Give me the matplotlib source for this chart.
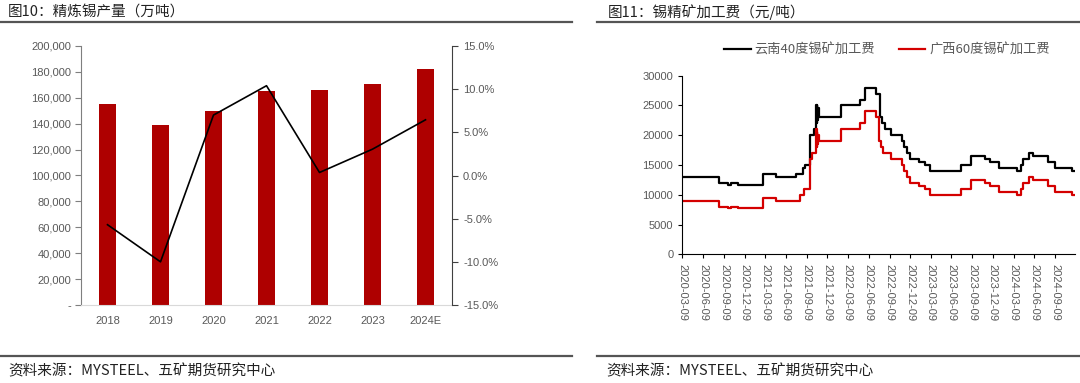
import matplotlib
matplotlib.use("Agg")
import matplotlib.pyplot as plt
from matplotlib.lines import Line2D
from matplotlib.ticker import FuncFormatter, MultipleLocator
import numpy as np
import pandas as pd

CJK = ['Noto Sans CJK SC', 'DejaVu Sans']
NUM = ['Liberation Sans', 'DejaVu Sans']
plt.rcParams['font.family'] = CJK

# ---------- data: chart 10 ----------
years = ['2018', '2019', '2020', '2021', '2022', '2023', '2024E']
output_t = [155000, 139000, 149500, 165300, 166000, 170600, 182000]
yoy_pct = [-5.7, -10.0, 7.0, 10.4, 0.35, 3.05, 6.45]

# ---------- data: chart 11 (step change points) ----------
yn_dates = ['2020-03-09', '2020-08-19', '2020-09-25', '2020-10-10', '2020-11-11',
            '2021-02-26', '2021-04-26', '2021-07-23', '2021-08-25', '2021-09-01',
            '2021-09-23', '2021-10-11', '2021-10-20', '2021-10-22', '2021-10-24',
            '2021-10-26', '2021-10-28', '2021-10-31', '2022-02-09', '2022-05-01',
            '2022-05-26', '2022-07-13', '2022-07-28', '2022-08-05', '2022-08-19',
            '2022-09-15', '2022-11-01', '2022-11-10', '2022-11-23', '2022-12-10',
            '2023-01-18', '2023-02-12', '2023-03-06', '2023-07-19', '2023-09-05',
            '2023-11-03', '2023-11-25', '2024-01-06', '2024-03-25', '2024-04-09',
            '2024-04-20', '2024-05-17', '2024-06-04', '2024-08-09', '2024-09-07',
            '2024-11-20', '2024-12-04']
yn_fee = [13000, 12000, 11700, 12000, 11700,
          13500, 13000, 13500, 14500, 15000,
          20000, 21000, 25000, 22000, 25000,
          22500, 24500, 23000, 25000, 26000,
          28000, 27000, 23000, 22000, 21000,
          20000, 19000, 18000, 17000, 16000,
          15500, 15000, 14000, 15000, 16500,
          16000, 15500, 14500, 14000, 15000,
          16000, 17000, 16500, 15500, 14500,
          14000, 14000]

gx_dates = ['2020-03-09', '2020-08-19', '2020-09-25', '2020-10-10', '2020-11-11',
            '2021-02-26', '2021-04-26', '2021-08-10', '2021-08-28', '2021-09-23',
            '2021-10-01', '2021-10-20', '2021-10-22', '2021-10-24', '2021-10-26',
            '2021-10-28', '2021-10-31', '2022-02-09', '2022-05-01', '2022-05-26',
            '2022-07-13', '2022-07-24', '2022-08-02', '2022-08-12', '2022-09-15',
            '2022-11-01', '2022-11-10', '2022-11-23', '2022-12-10', '2023-01-18',
            '2023-02-12', '2023-03-06', '2023-07-19', '2023-09-05', '2023-11-03',
            '2023-11-25', '2024-01-06', '2024-03-25', '2024-04-09', '2024-04-20',
            '2024-05-17', '2024-06-04', '2024-08-09', '2024-09-07', '2024-11-20',
            '2024-12-04']
gx_fee = [9000, 8000, 7700, 8000, 7700,
          9500, 9000, 10000, 11000, 16000,
          17000, 21000, 18000, 20500, 18500,
          20000, 19000, 21000, 22000, 24000,
          23000, 19000, 18000, 17000, 16000,
          15000, 14000, 13000, 12000, 11500,
          11000, 10000, 11000, 12500, 12000,
          11500, 10500, 10000, 11000, 12000,
          13000, 12500, 11500, 10500, 10000,
          10000]

tick_dates = pd.date_range('2020-03-09', '2024-09-09', freq=pd.DateOffset(months=3))

GRAY = '#595959'
BAR_RED = '#AE0000'
LINE_RED = '#D40000'

fig = plt.figure(figsize=(10.8, 3.83), dpi=100)

# ---------- header / footer ----------
fig.text(8/1080, 1-12/383, '图10：精炼锡产量（万吨）', fontsize=10.5, color='#222222',
         va='center', ha='left', family=CJK)
fig.text(608/1080, 1-12/383, '图11：锡精矿加工费（元/吨）', fontsize=10.5, color='#222222',
         va='center', ha='left', family=CJK)
for x0, x1 in [(0, 572), (597, 1080)]:
    fig.add_artist(Line2D([x0/1080, x1/1080], [1-22/383]*2, color='#555555', lw=1.6))
    fig.add_artist(Line2D([x0/1080, x1/1080], [1-356/383]*2, color='#555555', lw=1.6))
fig.text(8/1080, 1-371/383, '资料来源：MYSTEEL、五矿期货研究中心', fontsize=10.5, color='#222222',
         va='center', ha='left', family=CJK)
fig.text(606/1080, 1-371/383, '资料来源：MYSTEEL、五矿期货研究中心', fontsize=10.5, color='#222222',
         va='center', ha='left', family=CJK)

# ---------- chart 10 ----------
ax1 = fig.add_axes([81/1080, 1-305/383, (452-81)/1080, (305-46)/383])
x = np.arange(len(years))
ax1.bar(x, output_t, width=0.32, color=BAR_RED, zorder=2)
ax1.set_xlim(-0.5, len(years)-0.5)
ax1.set_ylim(0, 200000)
ax1.yaxis.set_major_locator(MultipleLocator(20000))
ax1.yaxis.set_major_formatter(FuncFormatter(lambda v, p: '-' if v == 0 else f'{int(v):,}'))
ax1.set_xticks(x)
ax1.set_xticklabels(years)
for s in ['top', 'right']:
    ax1.spines[s].set_visible(False)
ax1.spines['left'].set_color('#7F7F7F')
ax1.spines['bottom'].set_color('#D9D9D9')
ax1.tick_params(axis='y', direction='out', length=4, color='#7F7F7F', labelsize=8, labelcolor=GRAY, pad=3)
ax1.tick_params(axis='x', length=0, labelsize=8, labelcolor=GRAY, pad=8)
for lab in ax1.get_xticklabels() + ax1.get_yticklabels():
    lab.set_family(NUM)

ax2 = ax1.twinx()
ax2.plot(x, yoy_pct, color='black', lw=1.2, zorder=3)
ax2.set_ylim(-15, 15)
ax2.yaxis.set_major_locator(MultipleLocator(5))
ax2.yaxis.set_major_formatter(FuncFormatter(lambda v, p: f'{v:.1f}%'))
for s in ['top', 'left', 'bottom']:
    ax2.spines[s].set_visible(False)
ax2.spines['right'].set_color('#404040')
ax2.tick_params(axis='y', direction='out', length=4, color='#404040', labelsize=8, labelcolor=GRAY, pad=4)
for lab in ax2.get_yticklabels():
    lab.set_family(NUM)

# ---------- chart 11 ----------
ax3 = fig.add_axes([682.3/1080, 1-254.3/383, (1075-682.3)/1080, (254.3-75.7)/383])
yn_d = pd.to_datetime(yn_dates)
gx_d = pd.to_datetime(gx_dates)
l1, = ax3.plot(yn_d, yn_fee, drawstyle='steps-post', color='black', lw=1.6, label='云南40度锡矿加工费')
l2, = ax3.plot(gx_d, gx_fee, drawstyle='steps-post', color=LINE_RED, lw=1.6, label='广西60度锡矿加工费')
ax3.set_ylim(0, 30000)
ax3.yaxis.set_major_locator(MultipleLocator(5000))
ax3.set_xlim(pd.Timestamp('2020-03-09'), pd.Timestamp('2024-12-05'))
ax3.set_xticks(tick_dates)
ax3.set_xticklabels([d.strftime('%Y-%m-%d') for d in tick_dates], rotation=-90)
for s in ['top', 'right']:
    ax3.spines[s].set_visible(False)
ax3.spines['left'].set_color('black')
ax3.spines['bottom'].set_color('black')
ax3.tick_params(axis='both', direction='out', length=3, color='black', labelsize=8, labelcolor=GRAY)
ax3.tick_params(axis='x', pad=4)
for lab in ax3.get_xticklabels() + ax3.get_yticklabels():
    lab.set_family(NUM)

fig.legend(handles=[l1, l2], loc='center', bbox_to_anchor=(887/1080, 1-50/383), ncol=2,
           frameon=False, handlelength=2.0, handletextpad=0.3, columnspacing=1.8,
           labelcolor=GRAY, prop={'family': CJK, 'size': 9.5})

fig.savefig('out.png', dpi=100)
